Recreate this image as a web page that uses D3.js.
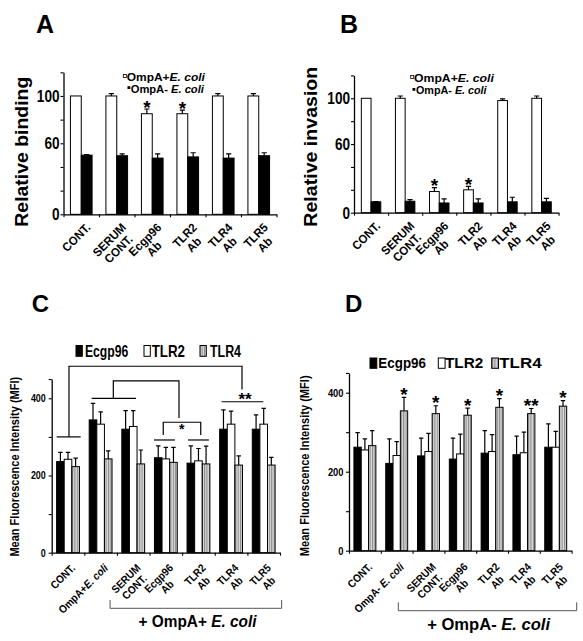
<!DOCTYPE html>
<html><head><meta charset="utf-8">
<script src="https://cdn.jsdelivr.net/npm/d3@7"></script>
<style>body{margin:0;background:#fff}</style>
</head><body>
<script>
// ---------------- DATA ----------------
const abCategories = ["CONT.", "SERUM\nCONT.", "Ecgp96\nAb", "TLR2\nAb", "TLR4\nAb", "TLR5\nAb"];
const abSeries = ["OmpA+_E. coli_", "OmpA- _E. coli_"];
const bindingPlus = [100, 100, 85, 85, 100, 100];
const bindingPlusErr = [0, 2, 4, 3, 2, 2];
const bindingMinus = [50, 49.5, 47.5, 48.5, 47.5, 49.5];
const bindingMinusErr = [0.5, 1.5, 3.5, 3.5, 3.5, 2.5];
const bindingSig = ["", "", "*", "*", "", ""];
const invasionPlus = [100, 100, 18.5, 20, 98, 100];
const invasionPlusErr = [0, 2, 3.5, 3, 1.5, 2];
const invasionMinus = [9.5, 10, 8.5, 8.5, 9.5, 9.5];
const invasionMinusErr = [0.3, 1.5, 3.5, 3.5, 4, 3];
const invasionSig = ["", "", "*", "*", "", ""];
const abTicks = [0, 20, 40, 60, 80, 100, 120];
const abTickLabels = [0, 60, 100];

const cCategories = ["CONT.", "OmpA+_E. coli_", "SERUM\nCONT.", "Ecgp96\nAb", "TLR2\nAb", "TLR4\nAb", "TLR5\nAb"];
const dCategories = ["CONT.", "OmpA- _E. coli_", "SERUM\nCONT.", "Ecgp96\nAb", "TLR2\nAb", "TLR4\nAb", "TLR5\nAb"];
const mfiSeries = ["Ecgp96", "TLR2", "TLR4"];
const cEcgp96 = [236, 344, 320, 246, 232, 320, 320];
const cEcgp96Err = [24, 43, 48, 31, 45, 50, 37];
const cTLR2 = [242, 333, 327, 243, 238, 333, 333];
const cTLR2Err = [18, 32, 41, 30, 32, 34, 41];
const cTLR4 = [223, 243, 230, 234, 230, 227, 227];
const cTLR4Err = [22, 21, 36, 39, 46, 24, 20];
const dEcgp96 = [262, 221, 240, 232, 247, 243, 262];
const dEcgp96Err = [37, 62, 45, 53, 57, 47, 59];
const dTLR2 = [255, 241, 251, 245, 251, 248, 262];
const dTLR2Err = [28, 35, 46, 50, 43, 52, 40];
const dTLR4 = [266, 354, 347, 343, 363, 347, 366];
const dTLR4Err = [38, 34, 20, 18, 22, 13, 14];
const dSig = ["", "*", "*", "*", "*", "**", "*"];
const mfiTicks = [0, 100, 200, 300, 400, 450];
const mfiTickLabels = [0, 200, 400];

// ---------------- SETUP ----------------
const FONT = "'Liberation Sans', Arial, Helvetica, sans-serif";
const svg = d3.select("body").append("svg").attr("width", 583).attr("height", 641)
  .style("display", "block").style("background", "#fff");
const defs = svg.append("defs");
const pat = defs.append("pattern").attr("id", "hatch").attr("patternUnits", "userSpaceOnUse")
  .attr("width", 2.4).attr("height", 4);
pat.append("rect").attr("width", 2.4).attr("height", 4).attr("fill", "#dcdcdc");
pat.append("rect").attr("width", 1.1).attr("height", 4).attr("fill", "#8a8a8a");

function txt(parent, x, y, content, o = {}) {
  const g = parent.append("g").attr("transform", `translate(${x},${y})` + (o.rot ? ` rotate(${o.rot})` : ""));
  const t = g.append("text").attr("font-family", FONT).attr("font-size", o.size || 12)
    .attr("font-weight", o.weight || "bold").attr("text-anchor", o.anchor || "start")
    .attr("fill", o.fill || "#000").style("white-space", "pre");
  String(content).split("_").forEach((p, i) => {
    if (!p) return;
    t.append("tspan").attr("font-style", i % 2 ? "italic" : null).text(p);
  });
  let s = o.sx || 1;
  if (o.len) s = o.len / t.node().getComputedTextLength();
  if (s !== 1) t.attr("transform", `scale(${s},1)`);
  return { g, t, s };
}

function drawPanel(o) {
  const n = o.categories.length;
  const g = svg.append("g");
  const x0 = d3.scaleBand().domain(d3.range(n)).range(o.xRange).paddingInner(o.pad).paddingOuter(o.pad / 2);
  const x1 = d3.scaleBand().domain(d3.range(o.series.length)).range([0, x0.bandwidth()]);
  const y = d3.scaleLinear().domain([0, o.yMax]).range(o.yRange);
  const xl = d3.scaleLinear().domain([0, n]).range(o.xRange);

  o.series.forEach((s, si) => {
    g.append("g").selectAll("rect").data(s.values).join("rect")
      .attr("x", (d, i) => x0(i) + x1(si))
      .attr("y", d => y(d))
      .attr("width", x1.bandwidth())
      .attr("height", d => y(0) - y(d))
      .attr("fill", s.fill).attr("stroke", "#000").attr("stroke-width", 1);
    g.append("g").selectAll("path").data(s.values).join("path")
      .attr("d", (d, i) => {
        const e = s.errs[i]; if (!e) return "";
        const cx = x0(i) + x1(si) + x1.bandwidth() / 2;
        const yt = y(d + e), yb = y(d);
        return `M${cx},${yb}V${yt}M${cx - o.cap},${yt}H${cx + o.cap}`;
      })
      .attr("fill", "none").attr("stroke", "#000").attr("stroke-width", 1.2);
  });

  // significance stars
  if (o.sig) {
    const s = o.series[o.sigSeries];
    o.sig.forEach((m, i) => {
      if (!m) return;
      const cx = x0(i) + x1(o.sigSeries) + x1.bandwidth() / 2;
      const cy = y(s.values[i] + s.errs[i]) - o.sigGap;
      txt(g, cx, cy + 0.585 * o.sigSize, m, { size: o.sigSize, anchor: "middle" });
    });
  }

  // y axis
  const ya = g.append("g").attr("transform", `translate(${o.xRange[0]},0)`)
    .call(d3.axisLeft(y).tickValues(o.ticks).tickSize(3).tickSizeOuter(0).tickPadding(o.tickPad)
      .tickFormat(d => o.tickLabels.includes(d) ? d : ""));
  ya.select(".domain").attr("stroke", "#000").attr("stroke-width", 1.3);
  ya.selectAll(".tick line").attr("stroke", "#000").attr("stroke-width", 1.1);
  ya.selectAll("text").attr("font-family", FONT).attr("font-size", o.tickFont)
    .attr("font-weight", "bold").attr("fill", "#000").attr("transform", `scale(${o.tickSx},1)`);

  // x axis (ticks at category boundaries)
  const xa = g.append("g").attr("transform", `translate(0,${y(0)})`)
    .call(d3.axisBottom(xl).tickValues(d3.range(n + 1)).tickSize(3).tickSizeOuter(0).tickFormat(""));
  xa.select(".domain").attr("stroke", "#000").attr("stroke-width", 1.3);
  xa.selectAll(".tick line").attr("stroke", "#000").attr("stroke-width", 1.1);

  // category labels, rotated -45 deg, lines centred
  o.categories.forEach((c, i) => {
    const cx = x0(i) + x0.bandwidth() / 2;
    const lg = g.append("g").attr("transform", `translate(${cx + o.labOff[0]},${y(0) + o.labOff[1]}) rotate(-45)`);
    const items = c.split("\n").map((line, k) => txt(lg, 0, k * o.labLh, line, { size: o.labSize, sx: o.labSx, anchor: "middle" }));
    const W = d3.max(items, it => it.t.node().getComputedTextLength() * it.s);
    items.forEach(it => it.g.attr("transform", it.g.attr("transform").replace(/translate\(0,/, `translate(${-W / 2},`)));
  });
  return { g, x0, x1, y, xl };
}

// ---------------- PANEL A ----------------
drawPanel({
  categories: abCategories, xRange: [63.5, 276.5], pad: 0.39, yMax: 120, yRange: [214.3, 72.3],
  series: [{ values: bindingPlus, errs: bindingPlusErr, fill: "#fff" }, { values: bindingMinus, errs: bindingMinusErr, fill: "#000" }],
  cap: 2.6, ticks: abTicks, tickLabels: abTickLabels, tickFont: 17, tickSx: 0.8, tickPad: 2,
  labOff: [10, 14], labSize: 12, labSx: 0.95, labLh: 13,
  sig: bindingSig, sigSeries: 0, sigSize: 19, sigGap: 6.5
});
txt(svg, 36, 32.7, "A", { size: 25 });
txt(svg, 27.8, 151.7, "Relative binding", { rot: -90, anchor: "middle", size: 19, len: 150 });
svg.append("rect").attr("x", 123.3).attr("y", 74.4).attr("width", 3).attr("height", 3).attr("fill", "#fff").attr("stroke", "#000").attr("stroke-width", 0.8);
txt(svg, 126.7, 80.5, abSeries[0], { size: 10.5, len: 78.3 });
svg.append("rect").attr("x", 127.5).attr("y", 86.2).attr("width", 2.8).attr("height", 2.8).attr("fill", "#000");
txt(svg, 130.7, 92.8, abSeries[1], { size: 10.5, len: 73.3 });

// ---------------- PANEL B ----------------
drawPanel({
  categories: abCategories, xRange: [354, 558.6], pad: 0.43, yMax: 120, yRange: [212.7, 75.4],
  series: [{ values: invasionPlus, errs: invasionPlusErr, fill: "#fff" }, { values: invasionMinus, errs: invasionMinusErr, fill: "#000" }],
  cap: 2.6, ticks: abTicks, tickLabels: abTickLabels, tickFont: 17, tickSx: 0.8, tickPad: 2,
  labOff: [10, 14], labSize: 12, labSx: 0.95, labLh: 13,
  sig: invasionSig, sigSeries: 0, sigSize: 19, sigGap: 6.5
});
txt(svg, 340, 33, "B", { size: 25 });
txt(svg, 316.8, 146.7, "Relative invasion", { rot: -90, anchor: "middle", size: 19, len: 160 });
svg.append("rect").attr("x", 410.7).attr("y", 75.4).attr("width", 3).attr("height", 3).attr("fill", "#fff").attr("stroke", "#000").attr("stroke-width", 0.8);
txt(svg, 414, 81.8, abSeries[0], { size: 10.5, len: 80 });
svg.append("rect").attr("x", 412.5).attr("y", 88).attr("width", 2.8).attr("height", 2.8).attr("fill", "#000");
txt(svg, 416, 94.4, abSeries[1], { size: 10.5, len: 70.7 });

// ---------------- PANEL C ----------------
const C = drawPanel({
  categories: cCategories, xRange: [51.7, 280], pad: 0.3, yMax: 450, yRange: [552.7, 552.7 - 450 * 0.386],
  series: [{ values: cEcgp96, errs: cEcgp96Err, fill: "#000" }, { values: cTLR2, errs: cTLR2Err, fill: "#fff" }, { values: cTLR4, errs: cTLR4Err, fill: "url(#hatch)" }],
  cap: 2.2, ticks: mfiTicks, tickLabels: mfiTickLabels, tickFont: 10.5, tickSx: 0.85, tickPad: 4,
  labOff: [8, 16], labSize: 11, labSx: 0.9, labLh: 12
});
txt(svg, 31.7, 311.7, "C", { size: 24 });
txt(svg, 19.3, 466.7, "Mean Fluorescence Intensity (MFI)", { rot: -90, anchor: "middle", size: 12, len: 180 });
{
  const { xl, y, g } = C;
  const L = (d) => g.append("path").attr("d", d).attr("fill", "none").attr("stroke", "#000").attr("stroke-width", 1.2);
  L(`M${xl(0.153)},${y(300)}H${xl(0.889)}`);
  L(`M${xl(0.53)},${y(300)}V${y(483)}H${xl(5.835)}V${y(423)}`);
  L(`M${xl(5.21)},${y(391)}H${xl(6.49)}`);
  txt(g, xl(5.93), y(408) + 0.585 * 17, "**", { size: 17, anchor: "middle" });
  L(`M${xl(1.226)},${y(400)}H${xl(2.585)}`);
  L(`M${xl(1.889)},${y(400)}V${y(445)}H${xl(3.903)}V${y(349)}`);
  txt(g, xl(3.986), y(328) + 0.585 * 14, "*", { size: 14, anchor: "middle" });
  L(`M${xl(3.42)},${y(305)}V${y(338)}H${xl(4.57)}V${y(305)}`);
  L(`M${xl(3.137)},${y(292)}H${xl(3.78)}`);
  L(`M${xl(4.18)},${y(292)}H${xl(4.82)}`);
  const y0 = y(0);
  g.append("path").attr("d", `M${xl(1.79)},${y0 + 47.3}V${y0 + 55.6}H${xl(7.05)}V${y0 + 47.3}`)
    .attr("fill", "none").attr("stroke", "#555").attr("stroke-width", 1);
  txt(g, xl(4.47), y0 + 74, "+ OmpA+ _E. coli_", { size: 16, anchor: "middle", len: 118 });
}
// legend C
[[76, "#000", 85, 43.3], [144, "#fff", 151.7, 33.3], [200, "url(#hatch)", 210, 31]].forEach((k, i) => {
  svg.append("rect").attr("x", k[0]).attr("y", 345.5).attr("width", 6.3).attr("height", 10.8)
    .attr("fill", k[1]).attr("stroke", "#000").attr("stroke-width", 1);
  txt(svg, k[2], 356.7, mfiSeries[i], { size: 16, len: k[3] });
});

// ---------------- PANEL D ----------------
const D = drawPanel({
  categories: dCategories, xRange: [349, 571.6], pad: 0.31, yMax: 450, yRange: [550.7, 550.7 - 450 * 0.395],
  series: [{ values: dEcgp96, errs: dEcgp96Err, fill: "#000" }, { values: dTLR2, errs: dTLR2Err, fill: "#fff" }, { values: dTLR4, errs: dTLR4Err, fill: "url(#hatch)" }],
  cap: 2.2, ticks: mfiTicks, tickLabels: mfiTickLabels, tickFont: 11, tickSx: 0.85, tickPad: 3.5,
  labOff: [8, 17], labSize: 11, labSx: 0.9, labLh: 12,
  sig: dSig, sigSeries: 2, sigSize: 19, sigGap: 7.5
});
txt(svg, 345, 311.7, "D", { size: 24 });
txt(svg, 309.3, 465.8, "Mean Fluorescence Intensity (MFI)", { rot: -90, anchor: "middle", size: 12, len: 181 });
{
  const { xl, y, g } = D;
  const y0 = y(0);
  g.append("path").attr("d", `M${xl(1.55)},${y0 + 51.6}V${y0 + 60}H${xl(7.16)}V${y0 + 51.6}`)
    .attr("fill", "none").attr("stroke", "#555").attr("stroke-width", 1);
  txt(g, xl(4.39), y0 + 79.3, "+ OmpA- _E. coli_", { size: 16, anchor: "middle", len: 123 });
}
[[370, "#000", 378.3, 47.7], [438.3, "#fff", 445, 38.3], [491.7, "url(#hatch)", 499.3, 42.3]].forEach((k, i) => {
  svg.append("rect").attr("x", k[0]).attr("y", 358).attr("width", 6.8).attr("height", 10.3)
    .attr("fill", k[1]).attr("stroke", "#000").attr("stroke-width", 1);
  txt(svg, k[2], 368.3, mfiSeries[i], { size: 15, len: k[3] });
});
</script>
</body></html>
